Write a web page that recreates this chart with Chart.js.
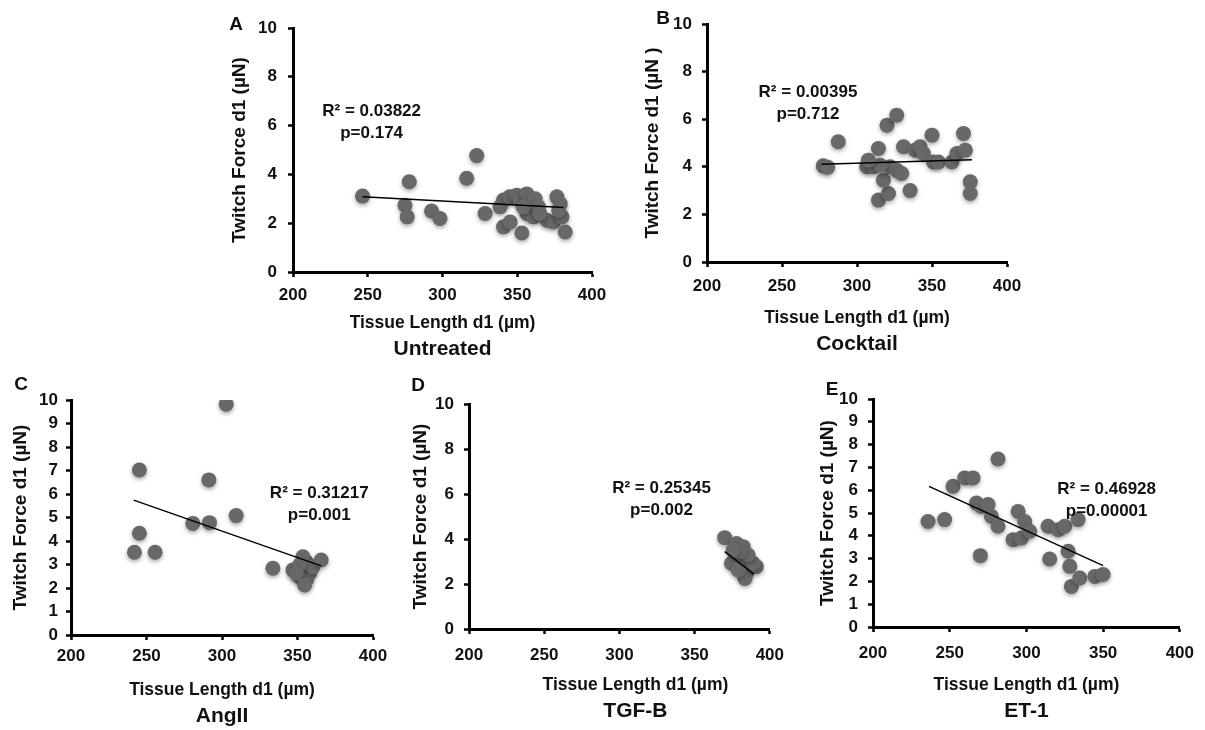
<!DOCTYPE html>
<html>
<head>
<meta charset="utf-8">
<title>Twitch force vs tissue length</title>
<script src="https://cdn.jsdelivr.net/npm/chart.js@4.4.1/dist/chart.umd.min.js"></script>
<style>
  body { margin: 0; background: #fff; }
  #figure { position: relative; width: 1205px; height: 730px; overflow: hidden; }
  #figure canvas { position: absolute; }
</style>
</head>
<body>
<div id="figure"></div>
<script>
// Tissue length d1 (µm) on x, twitch force d1 (µN) on y
const xTicks = [200, 250, 300, 350, 400];
const yTicksBy2 = [0, 2, 4, 6, 8, 10];
const yTicksBy1 = [0, 1, 2, 3, 4, 5, 6, 7, 8, 9, 10];

// A - Untreated
const untreatedX = [246.5, 277.8, 274.9, 276.4, 292.7, 298.3, 316.2, 322.9, 328.5, 340.8, 338.5, 340.8, 345.3, 353.1, 345.0, 349.7,
  352.0, 356.4, 358.7, 362.0, 356.4, 360.9, 364.2, 369.8, 374.3, 376.5, 378.8, 379.9, 382.1, 377.7, 354.0, 365.0];
const untreatedY = [3.11, 3.70, 2.74, 2.26, 2.50, 2.19, 3.84, 4.77, 2.40, 2.95, 2.67, 1.85, 2.05, 1.60, 3.08, 3.15,
  2.95, 3.20, 2.95, 3.00, 2.40, 2.26, 2.67, 2.12, 2.05, 3.08, 2.80, 2.26, 1.64, 2.53, 2.67, 2.40];
const untreatedFitX = [246.5, 381.0];
const untreatedFitY = [3.08, 2.64];

// B - Cocktail
const cocktailX = [277.5, 280.5, 287.5, 306.5, 311.0, 314.3, 314.3, 321.0, 320.0, 326.5, 317.6, 322.0, 326.5, 329.8, 331.0,
  335.4, 338.8, 342.0, 344.3, 350.0, 351.0, 354.3, 363.3, 366.6, 371.0, 372.2, 375.5, 375.5, 315.4, 307.6];
const cocktailY = [4.04, 3.98, 5.05, 4.00, 4.00, 4.77, 2.60, 2.88, 5.75, 6.17, 3.44, 4.00, 3.86, 3.72, 4.84,
  3.00, 4.70, 4.84, 4.56, 5.33, 4.20, 4.20, 4.20, 4.56, 5.40, 4.70, 3.37, 2.88, 4.07, 4.28];
const cocktailFitX = [276.4, 376.6];
const cocktailFitY = [4.11, 4.30];

// C - AngII
const angX = [302.8, 245.3, 291.3, 309.4, 280.7, 291.7, 245.3, 242.0, 255.7, 333.7, 347.0, 351.4, 355.8, 358.0, 355.8,
  353.6, 360.2, 365.7, 351.4, 349.2, 354.7];
const angY = [9.82, 7.02, 6.60, 5.08, 4.75, 4.78, 4.33, 3.52, 3.52, 2.84, 2.77, 2.48, 2.34, 2.62, 3.12,
  3.33, 2.90, 3.19, 2.98, 2.62, 2.13];
const angFitX = [241.5, 365.7];
const angFitY = [5.74, 2.94];

// D - TGF-B
const tgfX = [370.0, 377.8, 382.3, 377.8, 374.5, 380.0, 384.5, 383.4, 391.0, 388.9, 385.6, 380.0, 375.6, 379.0];
const tgfY = [4.06, 3.80, 3.66, 3.20, 2.92, 2.77, 2.47, 2.25, 2.77, 2.92, 3.29, 3.44, 3.51, 2.62];
const tgfFitX = [370.0, 389.4];
const tgfFitY = [3.44, 2.44];

// E - ET-1
const etX = [235.9, 246.7, 252.2, 259.8, 265.2, 281.5, 267.4, 270.7, 275.0, 277.2, 281.5, 270.0, 291.3, 294.6,
  296.7, 298.9, 302.2, 314.1, 320.7, 325.0, 333.7, 315.2, 327.2, 328.3, 329.3, 334.8, 344.6, 350.0];
const etY = [4.63, 4.71, 6.17, 6.54, 6.54, 7.37, 5.44, 5.29, 5.37, 4.85, 4.42, 3.13, 3.83, 5.07,
  3.90, 4.63, 4.20, 4.42, 4.27, 4.42, 4.71, 2.98, 3.32, 2.66, 1.78, 2.15, 2.22, 2.30];
const etFitX = [236.5, 350.0];
const etFitY = [6.17, 2.69];

const FONT = "'Liberation Sans', Arial, Helvetica, sans-serif";
const INK = '#111';
const DOT = '#686868';

const Y_W = 90;    // room left of the y axis
const PAD_T = 30;  // room above the plot
const PAD_R = 25;
const X_H = 100;   // room under the x axis

const panels = [
  { letter: 'A', name: 'Untreated', xs: untreatedX, ys: untreatedY, fitX: untreatedFitX, fitY: untreatedFitY,
    yTicks: yTicksBy2, yTitle: 'Twitch Force d1 (µN)', r2: 'R² = 0.03822', p: 'p=0.174', statsAt: [252.6, 6.57],
    box: { axisX: 293, top: 28, right: 592, bottom: 272 }, yTitlePad: 25.6, yTickPad: 11, xTickPad: 8,
    letterAt: [-57, -3], xTitleDy: 51, nameDy: 77, dx: 0 },
  { letter: 'B', name: 'Cocktail', xs: cocktailX, ys: cocktailY, fitX: cocktailFitX, fitY: cocktailFitY,
    yTicks: yTicksBy2, yTitle: 'Twitch Force d1 (µN )', r2: 'R² = 0.00395', p: 'p=0.712', statsAt: [267.3, 7.14],
    box: { axisX: 707, top: 24, right: 1007, bottom: 262 }, yTitlePad: 24.6, yTickPad: 10, xTickPad: 9.5,
    letterAt: [-44, -5], xTitleDy: 56, nameDy: 82, dx: 0 },
  { letter: 'C', name: 'AngII', xs: angX, ys: angY, fitX: angFitX, fitY: angFitY,
    yTicks: yTicksBy1, yTitle: 'Twitch Force d1 (µN)', r2: 'R² = 0.31217', p: 'p=0.001', statsAt: [364.4, 6.03],
    box: { axisX: 71, top: 400, right: 373, bottom: 635 }, yTitlePad: 28.6, yTickPad: 8, xTickPad: 6.5,
    letterAt: [-50, -15], xTitleDy: 55, nameDy: 81, dx: 0 },
  { letter: 'D', name: 'TGF-B', xs: tgfX, ys: tgfY, fitX: tgfFitX, fitY: tgfFitY,
    yTicks: yTicksBy2, yTitle: 'Twitch Force d1 (µN)', r2: 'R² = 0.25345', p: 'p=0.002', statsAt: [328, 6.25],
    box: { axisX: 469, top: 404, right: 770, bottom: 629 }, yTitlePad: 30.6, yTickPad: 10, xTickPad: 11,
    letterAt: [-51, -18], xTitleDy: 56.5, nameDy: 82.7, dx: 16 },
  { letter: 'E', name: 'ET-1', xs: etX, ys: etY, fitX: etFitX, fitY: etFitY,
    yTicks: yTicksBy1, yTitle: 'Twitch Force d1 (µN)', r2: 'R² = 0.46928', p: 'p=0.00001', statsAt: [352.3, 6.02],
    box: { axisX: 873, top: 399, right: 1180, bottom: 627 }, yTitlePad: 33.6, yTickPad: 10, xTickPad: 11,
    letterAt: [-41, -9], xTitleDy: 58, nameDy: 84.5, dx: 0 }
];

const toPoints = (xs, ys) => xs.map((x, i) => ({ x, y: ys[i] }));

// Soft drop shadow under the markers, plus the captions around each plot
const panelDecor = {
  id: 'panelDecor',
  beforeDatasetDraw(chart, args) {
    if (chart.data.datasets[args.index].label !== 'points') return;
    const ctx = chart.ctx;
    ctx.save();
    ctx.shadowColor = 'rgba(0, 0, 0, 0.35)';
    ctx.shadowBlur = 4;
    ctx.shadowOffsetY = 2;
  },
  afterDatasetDraw(chart, args) {
    if (chart.data.datasets[args.index].label !== 'points') return;
    chart.ctx.restore();
  },
  afterDraw(chart, args, opts) {
    const { ctx, chartArea: a, scales } = chart;
    const cx = (a.left + a.right) / 2 + opts.dx;
    ctx.save();
    ctx.fillStyle = INK;
    ctx.textAlign = 'center';
    ctx.textBaseline = 'middle';

    ctx.font = 'bold 17.5px ' + FONT;
    ctx.fillText('Tissue Length d1 (µm)', cx, a.bottom + opts.xTitleDy);
    ctx.font = 'bold 21px ' + FONT;
    ctx.fillText(opts.name, cx, a.bottom + opts.nameDy);
    ctx.font = 'bold 19px ' + FONT;
    ctx.fillText(opts.letter, a.left + opts.letterAt[0], a.top + opts.letterAt[1]);

    const sx = scales.x.getPixelForValue(opts.statsAt[0]);
    const sy = scales.y.getPixelForValue(opts.statsAt[1]);
    ctx.font = 'bold 17px ' + FONT;
    ctx.fillText(opts.r2, sx, sy);
    ctx.fillText(opts.p, sx, sy + 22);
    ctx.restore();
  }
};

function axisStyle(tickPad) {
  return {
    border: { display: true, color: '#000', width: 3 },
    grid: { display: true, drawOnChartArea: false, drawTicks: true, tickLength: 5, tickWidth: 2.5, tickColor: '#000' },
    ticks: { color: INK, padding: tickPad, autoSkip: false, maxRotation: 0,
      font: { family: FONT, size: 17, weight: 'bold' } }
  };
}

function makePanel(cfg) {
  const b = cfg.box;
  const w = Y_W + (b.right - b.axisX) + PAD_R;
  const h = PAD_T + (b.bottom - b.top) + X_H;

  const canvas = document.createElement('canvas');
  canvas.width = w;
  canvas.height = h;
  canvas.style.width = w + 'px';
  canvas.style.height = h + 'px';
  canvas.style.left = (b.axisX - Y_W) + 'px';
  canvas.style.top = (b.top - PAD_T) + 'px';
  document.getElementById('figure').appendChild(canvas);

  const xAxis = axisStyle(cfg.xTickPad);
  const yAxis = axisStyle(cfg.yTickPad);

  return new Chart(canvas, {
    type: 'scatter',
    data: {
      datasets: [
        {
          label: 'trend',
          data: toPoints(cfg.fitX, cfg.fitY),
          showLine: true,
          borderColor: '#000',
          borderWidth: 1.5,
          pointRadius: 0,
          order: 0
        },
        {
          label: 'points',
          data: toPoints(cfg.xs, cfg.ys),
          backgroundColor: DOT,
          borderWidth: 0,
          pointRadius: 7.5,
          order: 1
        }
      ]
    },
    options: {
      responsive: false,
      animation: false,
      layout: { padding: { top: PAD_T, right: PAD_R, left: 0, bottom: 0 } },
      scales: {
        x: {
          ...xAxis,
          type: 'linear',
          min: xTicks[0],
          max: xTicks[xTicks.length - 1],
          afterBuildTicks: (s) => { s.ticks = xTicks.map(v => ({ value: v })); },
          afterFit: (s) => { s.height = X_H; },
          title: { display: false }
        },
        y: {
          ...yAxis,
          type: 'linear',
          min: cfg.yTicks[0],
          max: cfg.yTicks[cfg.yTicks.length - 1],
          afterBuildTicks: (s) => { s.ticks = cfg.yTicks.map(v => ({ value: v })); },
          afterFit: (s) => { s.width = Y_W; },
          title: {
            display: true,
            text: cfg.yTitle,
            color: INK,
            padding: { top: cfg.yTitlePad, bottom: 0 },
            font: { family: FONT, size: 19, weight: 'bold' }
          }
        }
      },
      plugins: {
        legend: { display: false },
        tooltip: { enabled: false },
        panelDecor: {
          letter: cfg.letter,
          letterAt: cfg.letterAt,
          name: cfg.name,
          r2: cfg.r2,
          p: cfg.p,
          statsAt: cfg.statsAt,
          xTitleDy: cfg.xTitleDy,
          nameDy: cfg.nameDy,
          dx: cfg.dx
        }
      }
    },
    plugins: [panelDecor]
  });
}

panels.forEach(makePanel);
</script>
</body>
</html>
